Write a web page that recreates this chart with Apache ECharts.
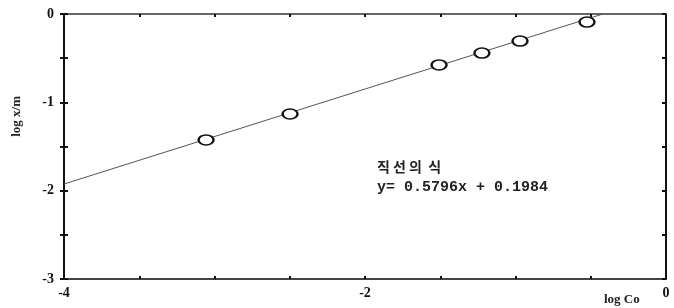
<!DOCTYPE html>
<html>
<head>
<meta charset="utf-8">
<script src="https://cdn.jsdelivr.net/npm/echarts@6/dist/echarts.min.js"></script>
<style>
  html, body { margin: 0; padding: 0; background: #fff; }
  #chart { width: 674px; height: 308px; }
</style>
</head>
<body>
<div id="chart"></div>
<script>
// measured points (log Co, log x/m)
var logCo = [-3.056, -2.498, -1.508, -1.223, -0.970, -0.525]
var logXm = [-1.426, -1.132, -0.577, -0.442, -0.306, -0.091]
// fitted line ends as drawn
var lineX = [-4, -0.42]
var lineY = [-1.925, 0.0]
var xLabels = [-4, -2, 0]
var yLabels = [0, -1, -2, -3]

var points = logCo.map(function (x, i) { return [x, logXm[i]] })
var linePts = lineX.map(function (x, i) { return [x, lineY[i]] })

var font = '"Liberation Serif", "DejaVu Serif", serif'
var mono = '"Liberation Mono", "DejaVu Sans Mono", monospace'

function tickLabel (list) {
  return function (v) {
    if (list.indexOf(v) < 0) return ''
    return v < 0 ? '-' + Math.abs(v) : '0'
  }
}

var myChart = echarts.init(document.getElementById('chart'))
myChart.setOption({
  animation: false,
  grid: { left: 64, right: 8, top: 14, bottom: 29 },
  xAxis: [
    {
      type: 'value', min: -4, max: 0, interval: 0.5, position: 'bottom',
      axisLine: { onZero: false, lineStyle: { color: '#444', width: 2 } },
      axisTick: { show: true, inside: true, length: 3, lineStyle: { color: '#111', width: 2 } },
      splitLine: { show: false },
      axisLabel: {
        margin: 7, color: '#111', fontFamily: font, fontWeight: 'bold', fontSize: 14,
        formatter: tickLabel(xLabels)
      }
    },
    {
      type: 'value', min: -4, max: 0, interval: 0.5, position: 'top',
      axisLine: { onZero: false, lineStyle: { color: '#666', width: 2 } },
      axisTick: { show: true, inside: true, length: 3, lineStyle: { color: '#111', width: 2 } },
      splitLine: { show: false },
      axisLabel: { show: false }
    }
  ],
  yAxis: [
    {
      type: 'value', min: -3, max: 0, interval: 0.5, position: 'left',
      axisLine: { onZero: false, lineStyle: { color: '#111', width: 2 } },
      axisTick: { show: true, length: 4, lineStyle: { color: '#111', width: 2 } },
      splitLine: { show: false },
      axisLabel: {
        margin: 10, color: '#111', fontFamily: font, fontWeight: 'bold', fontSize: 14,
        formatter: tickLabel(yLabels)
      }
    },
    {
      type: 'value', min: -3, max: 0, interval: 0.5, position: 'left',
      axisLine: { show: false, onZero: false },
      axisTick: { show: true, inside: true, length: 4, lineStyle: { color: '#111', width: 2 } },
      splitLine: { show: false },
      axisLabel: { show: false }
    },
    {
      type: 'value', min: -3, max: 0, interval: 0.5, position: 'right',
      axisLine: { onZero: false, lineStyle: { color: '#111', width: 2 } },
      axisTick: { show: true, inside: true, length: 4, lineStyle: { color: '#111', width: 2 } },
      splitLine: { show: false },
      axisLabel: { show: false }
    }
  ],
  series: [
    {
      type: 'line', data: linePts, symbol: 'none', z: 2,
      lineStyle: { color: '#555', width: 1 }
    },
    {
      type: 'scatter', data: points, symbol: 'circle', symbolSize: [15, 10], z: 3,
      itemStyle: { color: '#fff', borderColor: '#111', borderWidth: 2, opacity: 1 }
    }
  ],
  graphic: [
    {
      type: 'text', left: 377, top: 160,
      style: { text: '직 선 의  식', fill: '#222', font: 'bold 14px "Noto Sans CJK KR"' }
    },
    {
      type: 'text', left: 377, top: 180,
      style: { text: 'y= 0.5796x + 0.1984', fill: '#222', font: 'bold 15px ' + mono }
    },
    {
      type: 'text', left: 604, top: 293,
      style: { text: 'log Co', fill: '#222', font: 'bold 13px ' + font }
    },
    {
      type: 'text', left: 10, top: 96, rotation: Math.PI / 2,
      style: { text: 'log x/m', fill: '#222', font: 'bold 13px ' + font }
    }
  ]
})
</script>
</body>
</html>
